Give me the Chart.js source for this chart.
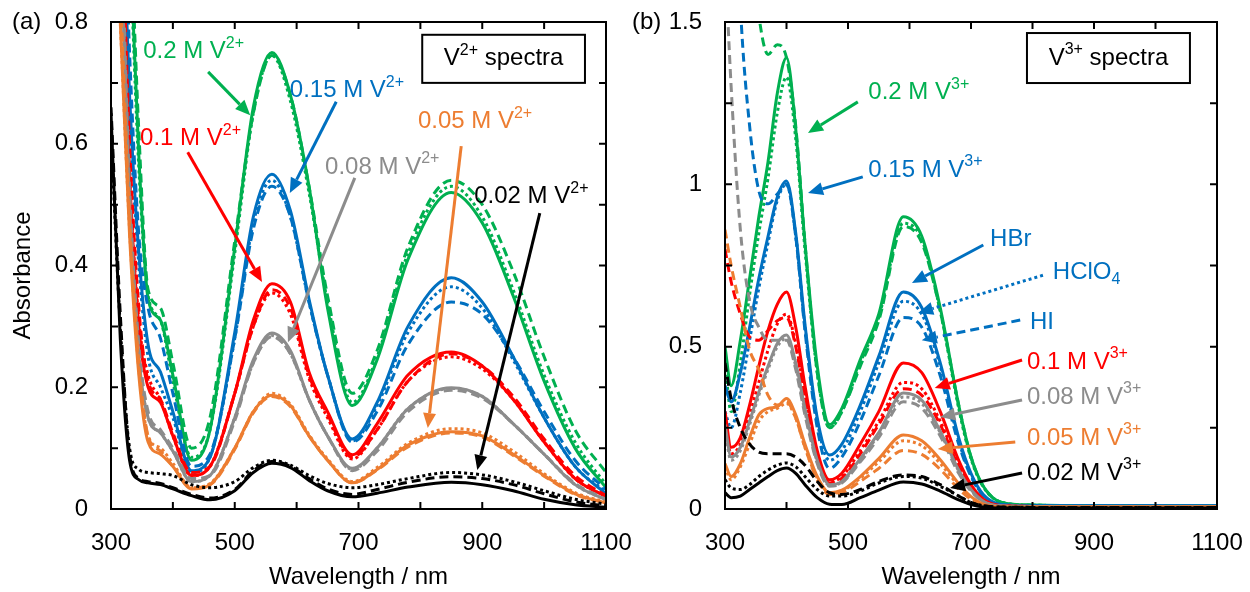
<!DOCTYPE html>
<html>
<head>
<meta charset="utf-8">
<script src="https://cdn.jsdelivr.net/npm/chart.js@4.4.0/dist/chart.umd.min.js"></script>
<style>
html, body { margin: 0; padding: 0; background: #fff; overflow: hidden; width: 1250px; height: 592px; }
#wrapA { position: absolute; left: 0; top: 0; width: 660px; height: 592px; }
#wrapB { position: absolute; left: 620px; top: 0; width: 644px; height: 592px; }
</style>
</head>
<body>
<div id="wrapA"><canvas id="chartA"></canvas></div>
<div id="wrapB"><canvas id="chartB"></canvas></div>
<script>
const GREEN = '#00B050', BLUE = '#0070C0', RED = '#FF0000', GRAY = '#8C8C8C', ORANGE = '#ED7D31', BLACK = '#000000';
const FONT = '"Liberation Sans", Arial, sans-serif';

// tick labels
const xTickLabels = [300, 500, 700, 900, 1100];
const yTickLabelsA = [0, 0.2, 0.4, 0.6, 0.8];
const yTickLabelsB = [0, 0.5, 1, 1.5];

// (a) V2+ spectra, wavelength grid
const wlA = [300, 315, 330, 345, 360, 380, 400, 430, 460, 500, 530, 560, 590, 620, 650, 690, 730, 780, 850, 900, 950, 1000, 1050, 1100];
const aGreenHBr   = [1.6, 1.25, 0.95, 0.58, 0.345, 0.31, 0.22, 0.08, 0.13, 0.43, 0.66, 0.75, 0.68, 0.53, 0.33, 0.17, 0.245, 0.41, 0.52, 0.47, 0.35, 0.21, 0.1, 0.035];
const aGreenHClO4 = [1.6, 1.25, 0.93, 0.56, 0.35, 0.31, 0.21, 0.085, 0.13, 0.42, 0.65, 0.745, 0.67, 0.52, 0.34, 0.175, 0.25, 0.42, 0.53, 0.48, 0.36, 0.22, 0.11, 0.04];
const aGreenHI    = [1.7, 1.35, 1.0, 0.62, 0.36, 0.33, 0.24, 0.1, 0.15, 0.44, 0.65, 0.745, 0.68, 0.53, 0.35, 0.19, 0.26, 0.43, 0.54, 0.5, 0.39, 0.25, 0.13, 0.06];
const aBlueHBr    = [1.4, 1.1, 0.68, 0.42, 0.27, 0.225, 0.16, 0.063, 0.085, 0.29, 0.48, 0.55, 0.49, 0.345, 0.22, 0.115, 0.175, 0.3, 0.38, 0.34, 0.25, 0.15, 0.07, 0.025];
const aBlueHClO4  = [1.4, 1.1, 0.66, 0.4, 0.25, 0.2, 0.15, 0.06, 0.085, 0.28, 0.47, 0.54, 0.48, 0.34, 0.22, 0.112, 0.17, 0.29, 0.365, 0.33, 0.245, 0.15, 0.07, 0.028];
const aBlueHI     = [1.5, 1.2, 0.75, 0.45, 0.33, 0.28, 0.19, 0.07, 0.09, 0.28, 0.46, 0.53, 0.48, 0.34, 0.22, 0.11, 0.16, 0.27, 0.34, 0.32, 0.25, 0.16, 0.08, 0.032];
const aRedHBr     = [1.3, 1.0, 0.55, 0.3, 0.2, 0.175, 0.12, 0.055, 0.07, 0.19, 0.31, 0.37, 0.34, 0.225, 0.16, 0.089, 0.14, 0.22, 0.258, 0.235, 0.18, 0.11, 0.05, 0.02];
const aRedHClO4   = [1.3, 1.0, 0.55, 0.31, 0.22, 0.18, 0.12, 0.055, 0.07, 0.19, 0.3, 0.355, 0.32, 0.215, 0.15, 0.082, 0.13, 0.21, 0.25, 0.23, 0.18, 0.11, 0.05, 0.02];
const aRedHI      = [1.35, 1.05, 0.6, 0.33, 0.21, 0.18, 0.125, 0.06, 0.07, 0.19, 0.3, 0.36, 0.33, 0.22, 0.155, 0.085, 0.13, 0.21, 0.255, 0.235, 0.185, 0.115, 0.055, 0.022];
const aGrayHBr    = [1.2, 0.95, 0.5, 0.25, 0.15, 0.125, 0.095, 0.045, 0.055, 0.15, 0.245, 0.289, 0.26, 0.18, 0.12, 0.067, 0.1, 0.165, 0.199, 0.185, 0.14, 0.09, 0.04, 0.015];
const aGrayHClO4  = [1.2, 0.95, 0.5, 0.25, 0.15, 0.125, 0.095, 0.045, 0.055, 0.15, 0.24, 0.285, 0.255, 0.18, 0.12, 0.065, 0.1, 0.165, 0.198, 0.185, 0.14, 0.09, 0.04, 0.015];
const aGrayHI     = [1.25, 1.0, 0.53, 0.27, 0.16, 0.13, 0.1, 0.05, 0.055, 0.145, 0.24, 0.283, 0.255, 0.18, 0.12, 0.063, 0.095, 0.16, 0.195, 0.182, 0.14, 0.09, 0.042, 0.016];
const aOrangeHBr   = [1.1, 0.8, 0.45, 0.22, 0.11, 0.09, 0.07, 0.033, 0.04, 0.1, 0.16, 0.187, 0.17, 0.12, 0.08, 0.043, 0.065, 0.105, 0.127, 0.12, 0.09, 0.055, 0.025, 0.01];
const aOrangeHClO4 = [1.1, 0.8, 0.46, 0.23, 0.12, 0.1, 0.075, 0.035, 0.042, 0.1, 0.16, 0.19, 0.172, 0.122, 0.082, 0.045, 0.068, 0.108, 0.132, 0.125, 0.095, 0.058, 0.027, 0.011];
const aOrangeHI    = [1.15, 0.85, 0.48, 0.24, 0.12, 0.095, 0.07, 0.035, 0.04, 0.098, 0.158, 0.185, 0.168, 0.12, 0.08, 0.043, 0.064, 0.102, 0.125, 0.118, 0.088, 0.054, 0.024, 0.01];
const aBlackHBr   = [0.65, 0.28, 0.08, 0.048, 0.043, 0.04, 0.033, 0.022, 0.015, 0.03, 0.06, 0.075, 0.068, 0.047, 0.03, 0.02, 0.026, 0.036, 0.044, 0.04, 0.03, 0.016, 0.007, 0.003];
const aBlackHClO4 = [0.62, 0.3, 0.1, 0.065, 0.06, 0.058, 0.055, 0.04, 0.035, 0.045, 0.068, 0.08, 0.072, 0.055, 0.042, 0.035, 0.04, 0.05, 0.06, 0.056, 0.045, 0.03, 0.016, 0.008];
const aBlackHI    = [0.66, 0.32, 0.09, 0.05, 0.045, 0.042, 0.035, 0.024, 0.018, 0.032, 0.063, 0.078, 0.07, 0.05, 0.033, 0.024, 0.032, 0.044, 0.053, 0.05, 0.04, 0.025, 0.012, 0.005];

// (b) V3+ spectra
const wlB = [300, 310, 325, 340, 355, 370, 385, 400, 415, 430, 450, 470, 490, 520, 550, 590, 620, 650, 680, 700, 720, 750, 800, 900, 1000, 1100];
const bGreenHBr   = [0.5, 0.38, 0.52, 0.71, 0.9, 1.07, 1.28, 1.39, 1.17, 0.82, 0.44, 0.26, 0.31, 0.46, 0.6, 0.9, 0.84, 0.62, 0.32, 0.16, 0.07, 0.02, 0.012, 0.01, 0.01, 0.01];
const bGreenHClO4 = [0.45, 0.3, 0.45, 0.66, 0.85, 1.02, 1.22, 1.33, 1.14, 0.8, 0.42, 0.25, 0.3, 0.45, 0.59, 0.88, 0.83, 0.61, 0.31, 0.155, 0.068, 0.02, 0.012, 0.01, 0.01, 0.01];
const bGreenHI    = [3.0, 2.6, 2.1, 1.8, 1.52, 1.4, 1.43, 1.39, 1.18, 0.82, 0.42, 0.25, 0.3, 0.44, 0.58, 0.87, 0.82, 0.61, 0.32, 0.16, 0.07, 0.02, 0.012, 0.01, 0.01, 0.01];
const bBlueHBr    = [0.38, 0.33, 0.42, 0.56, 0.71, 0.84, 0.96, 1.01, 0.85, 0.57, 0.28, 0.166, 0.2, 0.32, 0.47, 0.668, 0.62, 0.45, 0.22, 0.11, 0.045, 0.014, 0.01, 0.01, 0.01, 0.01];
const bBlueHClO4  = [0.3, 0.25, 0.36, 0.52, 0.68, 0.82, 0.95, 1.0, 0.84, 0.56, 0.27, 0.15, 0.18, 0.3, 0.45, 0.64, 0.6, 0.44, 0.21, 0.105, 0.042, 0.013, 0.01, 0.01, 0.01, 0.01];
const bBlueHI     = [3.0, 2.3, 1.55, 1.18, 0.98, 0.94, 0.97, 1.0, 0.84, 0.55, 0.25, 0.125, 0.16, 0.27, 0.41, 0.59, 0.56, 0.41, 0.2, 0.1, 0.04, 0.013, 0.01, 0.01, 0.01, 0.01];
const bRedHBr     = [0.3, 0.19, 0.22, 0.32, 0.44, 0.55, 0.63, 0.668, 0.56, 0.38, 0.18, 0.09, 0.11, 0.2, 0.3, 0.45, 0.42, 0.3, 0.15, 0.075, 0.03, 0.01, 0.008, 0.008, 0.008, 0.008];
const bRedHClO4   = [0.26, 0.17, 0.2, 0.29, 0.39, 0.49, 0.57, 0.6, 0.51, 0.35, 0.17, 0.085, 0.1, 0.18, 0.27, 0.39, 0.37, 0.27, 0.135, 0.068, 0.027, 0.01, 0.008, 0.008, 0.008, 0.008];
const bRedHI      = [0.8, 0.7, 0.6, 0.53, 0.52, 0.55, 0.58, 0.59, 0.5, 0.34, 0.16, 0.08, 0.095, 0.17, 0.26, 0.37, 0.35, 0.26, 0.13, 0.065, 0.026, 0.01, 0.008, 0.008, 0.008, 0.008];
const bGrayHBr    = [0.26, 0.16, 0.19, 0.27, 0.36, 0.44, 0.51, 0.536, 0.45, 0.31, 0.15, 0.075, 0.085, 0.155, 0.235, 0.357, 0.335, 0.24, 0.12, 0.06, 0.024, 0.009, 0.008, 0.008, 0.008, 0.008];
const bGrayHClO4  = [0.24, 0.15, 0.18, 0.26, 0.35, 0.43, 0.5, 0.525, 0.44, 0.3, 0.145, 0.073, 0.083, 0.15, 0.23, 0.345, 0.325, 0.235, 0.117, 0.058, 0.023, 0.009, 0.008, 0.008, 0.008, 0.008];
const bGrayHI     = [1.7, 1.3, 0.86, 0.64, 0.56, 0.52, 0.52, 0.52, 0.43, 0.29, 0.14, 0.07, 0.08, 0.145, 0.22, 0.33, 0.31, 0.225, 0.11, 0.055, 0.022, 0.009, 0.008, 0.008, 0.008, 0.008];
const bOrangeHBr   = [0.14, 0.1, 0.14, 0.22, 0.29, 0.31, 0.315, 0.34, 0.29, 0.2, 0.1, 0.05, 0.058, 0.1, 0.155, 0.228, 0.21, 0.152, 0.078, 0.038, 0.015, 0.007, 0.006, 0.006, 0.006, 0.006];
const bOrangeHClO4 = [0.13, 0.09, 0.13, 0.2, 0.27, 0.3, 0.31, 0.325, 0.28, 0.19, 0.095, 0.048, 0.055, 0.095, 0.145, 0.21, 0.195, 0.14, 0.072, 0.035, 0.014, 0.007, 0.006, 0.006, 0.006, 0.006];
const bOrangeHI    = [0.86, 0.75, 0.62, 0.49, 0.43, 0.35, 0.32, 0.33, 0.28, 0.19, 0.09, 0.045, 0.05, 0.085, 0.125, 0.18, 0.168, 0.122, 0.062, 0.03, 0.012, 0.006, 0.006, 0.006, 0.006, 0.006];
const bBlackHBr   = [0.05, 0.035, 0.04, 0.06, 0.08, 0.1, 0.118, 0.126, 0.11, 0.075, 0.035, 0.015, 0.014, 0.035, 0.058, 0.083, 0.077, 0.055, 0.028, 0.014, 0.006, 0.003, 0.003, 0.003, 0.003, 0.003];
const bBlackHClO4 = [0.09, 0.065, 0.06, 0.075, 0.1, 0.12, 0.135, 0.142, 0.13, 0.1, 0.06, 0.04, 0.04, 0.055, 0.08, 0.1, 0.095, 0.07, 0.04, 0.02, 0.01, 0.006, 0.005, 0.005, 0.005, 0.005];
const bBlackHI    = [0.45, 0.34, 0.25, 0.2, 0.175, 0.17, 0.17, 0.17, 0.16, 0.135, 0.085, 0.05, 0.045, 0.06, 0.085, 0.105, 0.1, 0.075, 0.04, 0.02, 0.01, 0.006, 0.005, 0.005, 0.005, 0.005];

// line style per acid
const DASH = { HBr: [], HClO4: [3, 3], HI: [9, 5] };

function line(wl, vals, color, acid) {
	return {
		data: wl.map((w, i) => ({ x: w, y: vals[i] })),
		borderColor: color,
		borderWidth: 3,
		borderDash: DASH[acid],
		pointRadius: 0,
		fill: false,
		cubicInterpolationMode: 'monotone'
	};
}

const datasetsA = [
	line(wlA, aBlackHI, BLACK, 'HI'), line(wlA, aBlackHClO4, BLACK, 'HClO4'), line(wlA, aBlackHBr, BLACK, 'HBr'),
	line(wlA, aOrangeHI, ORANGE, 'HI'), line(wlA, aOrangeHClO4, ORANGE, 'HClO4'), line(wlA, aOrangeHBr, ORANGE, 'HBr'),
	line(wlA, aGrayHI, GRAY, 'HI'), line(wlA, aGrayHClO4, GRAY, 'HClO4'), line(wlA, aGrayHBr, GRAY, 'HBr'),
	line(wlA, aRedHI, RED, 'HI'), line(wlA, aRedHClO4, RED, 'HClO4'), line(wlA, aRedHBr, RED, 'HBr'),
	line(wlA, aBlueHI, BLUE, 'HI'), line(wlA, aBlueHClO4, BLUE, 'HClO4'), line(wlA, aBlueHBr, BLUE, 'HBr'),
	line(wlA, aGreenHI, GREEN, 'HI'), line(wlA, aGreenHClO4, GREEN, 'HClO4'), line(wlA, aGreenHBr, GREEN, 'HBr')
];
const datasetsB = [
	line(wlB, bBlackHI, BLACK, 'HI'), line(wlB, bBlackHClO4, BLACK, 'HClO4'), line(wlB, bBlackHBr, BLACK, 'HBr'),
	line(wlB, bOrangeHI, ORANGE, 'HI'), line(wlB, bOrangeHClO4, ORANGE, 'HClO4'), line(wlB, bOrangeHBr, ORANGE, 'HBr'),
	line(wlB, bGrayHI, GRAY, 'HI'), line(wlB, bGrayHClO4, GRAY, 'HClO4'), line(wlB, bGrayHBr, GRAY, 'HBr'),
	line(wlB, bRedHI, RED, 'HI'), line(wlB, bRedHClO4, RED, 'HClO4'), line(wlB, bRedHBr, RED, 'HBr'),
	line(wlB, bBlueHI, BLUE, 'HI'), line(wlB, bBlueHClO4, BLUE, 'HClO4'), line(wlB, bBlueHBr, BLUE, 'HBr'),
	line(wlB, bGreenHI, GREEN, 'HI'), line(wlB, bGreenHClO4, GREEN, 'HClO4'), line(wlB, bGreenHBr, GREEN, 'HBr')
];

// annotations, placed in data units (wavelength, absorbance)
const notesA = {
	tag: '(a)',
	box: { from: [803, 0.779], to: [1066, 0.700], sup: '2+' },
	labels: [
		{ text: '0.2 M V', sup: '2+', color: GREEN, at: [352, 0.751] },
		{ text: '0.15 M V', sup: '2+', color: BLUE, at: [589, 0.688] },
		{ text: '0.1 M V', sup: '2+', color: RED, at: [347, 0.609] },
		{ text: '0.08 M V', sup: '2+', color: GRAY, at: [646, 0.562] },
		{ text: '0.05 M V', sup: '2+', color: ORANGE, at: [796, 0.636] },
		{ text: '0.02 M V', sup: '2+', color: BLACK, at: [887, 0.513] }
	],
	arrows: [
		{ color: GREEN, from: [457, 0.718], to: [525, 0.647] },
		{ color: BLUE, from: [664, 0.669], to: [589, 0.519] },
		{ color: RED, from: [424, 0.586], to: [544, 0.373] },
		{ color: GRAY, from: [694, 0.544], to: [586, 0.274] },
		{ color: ORANGE, from: [866, 0.596], to: [812, 0.133] },
		{ color: BLACK, from: [993, 0.486], to: [892, 0.064] }
	]
};
const notesB = {
	tag: '(b)',
	box: { from: [791, 1.466], to: [1056, 1.312], sup: '3+' },
	labels: [
		{ text: '0.2 M V', sup: '3+', color: GREEN, at: [533, 1.284] },
		{ text: '0.15 M V', sup: '3+', color: BLUE, at: [533, 1.044] },
		{ text: 'HBr', color: BLUE, at: [731, 0.829] },
		{ text: 'HClO', sub: '4', color: BLUE, at: [833, 0.73] },
		{ text: 'HI', color: BLUE, at: [796, 0.576] },
		{ text: '0.1 M V', sup: '3+', color: RED, at: [791, 0.453] },
		{ text: '0.08 M V', sup: '3+', color: GRAY, at: [791, 0.345] },
		{ text: '0.05 M V', sup: '3+', color: ORANGE, at: [791, 0.219] },
		{ text: '0.02 M V', sup: '3+', color: BLACK, at: [791, 0.111] }
	],
	arrows: [
		{ color: GREEN, from: [516, 1.254], to: [435, 1.158] },
		{ color: BLUE, from: [524, 1.023], to: [435, 0.973] },
		{ color: BLUE, from: [720, 0.813], to: [604, 0.696] },
		{ color: BLUE, from: [817, 0.72], to: [614, 0.604], dash: [3, 3] },
		{ color: BLUE, from: [780, 0.582], to: [620, 0.52], dash: [9, 5] },
		{ color: RED, from: [783, 0.459], to: [641, 0.373] },
		{ color: GRAY, from: [783, 0.336], to: [650, 0.283] },
		{ color: ORANGE, from: [772, 0.206], to: [646, 0.185] },
		{ color: BLACK, from: [783, 0.111], to: [666, 0.065] }
	]
};

function richText(ctx, x, y, text, color, sup, sub) {
	ctx.fillStyle = color;
	ctx.textAlign = 'left';
	ctx.textBaseline = 'middle';
	ctx.font = '24px ' + FONT;
	ctx.fillText(text, x, y);
	let w = ctx.measureText(text).width;
	ctx.font = '16px ' + FONT;
	if (sup) {
		ctx.fillText(sup, x + w, y - 8);
		w += ctx.measureText(sup).width;
	}
	if (sub) {
		ctx.fillText(sub, x + w, y + 8);
		w += ctx.measureText(sub).width;
	}
	return w;
}

function arrow(ctx, x1, y1, x2, y2, color, dash) {
	const ang = Math.atan2(y2 - y1, x2 - x1);
	const head = 15, half = 6.5;
	ctx.save();
	ctx.strokeStyle = color;
	ctx.fillStyle = color;
	ctx.lineWidth = 3;
	ctx.setLineDash(dash || []);
	ctx.beginPath();
	ctx.moveTo(x1, y1);
	ctx.lineTo(x2 - head * Math.cos(ang), y2 - head * Math.sin(ang));
	ctx.stroke();
	ctx.setLineDash([]);
	ctx.beginPath();
	ctx.moveTo(x2, y2);
	ctx.lineTo(x2 - head * Math.cos(ang) + half * Math.sin(ang), y2 - head * Math.sin(ang) - half * Math.cos(ang));
	ctx.lineTo(x2 - head * Math.cos(ang) - half * Math.sin(ang), y2 - head * Math.sin(ang) + half * Math.cos(ang));
	ctx.closePath();
	ctx.fill();
	ctx.restore();
}

// frame with inward ticks on all four sides, then the notes
function framePlugin(notes) {
	return {
		id: 'frame',
		afterDatasetsDraw(chart) {
			const { ctx, chartArea: a, scales: { x, y } } = chart;
			const px = v => x.getPixelForValue(v), py = v => y.getPixelForValue(v);
			ctx.save();
			ctx.strokeStyle = '#000';
			ctx.lineWidth = 2;
			ctx.strokeRect(a.left, a.top, a.right - a.left, a.bottom - a.top);
			const len = 7;
			ctx.beginPath();
			x.ticks.forEach(t => {
				const p = px(t.value);
				ctx.moveTo(p, a.bottom); ctx.lineTo(p, a.bottom - len);
				ctx.moveTo(p, a.top); ctx.lineTo(p, a.top + len);
			});
			y.ticks.forEach(t => {
				const p = py(t.value);
				ctx.moveTo(a.left, p); ctx.lineTo(a.left + len, p);
				ctx.moveTo(a.right, p); ctx.lineTo(a.right - len, p);
			});
			ctx.stroke();

			// panel tag
			ctx.fillStyle = '#000';
			ctx.font = '24px ' + FONT;
			ctx.textAlign = 'left';
			ctx.textBaseline = 'middle';
			ctx.fillText(notes.tag, 12, a.top);

			// box legend
			const b = notes.box;
			const bx = px(b.from[0]), by = py(b.from[1]), bw = px(b.to[0]) - bx, bh = py(b.to[1]) - by;
			ctx.fillStyle = '#fff';
			ctx.fillRect(bx, by, bw, bh);
			ctx.strokeRect(bx, by, bw, bh);
			ctx.font = '24px ' + FONT;
			const w1 = ctx.measureText('V').width;
			ctx.font = '16px ' + FONT;
			const w2 = ctx.measureText(b.sup).width;
			ctx.font = '24px ' + FONT;
			const w3 = ctx.measureText(' spectra').width;
			let tx = bx + (bw - (w1 + w2 + w3)) / 2;
			const ty = by + bh / 2;
			tx += richText(ctx, tx, ty, 'V', '#000', b.sup);
			ctx.font = '24px ' + FONT;
			ctx.fillText(' spectra', tx, ty);

			notes.arrows.forEach(r => arrow(ctx, px(r.from[0]), py(r.from[1]), px(r.to[0]), py(r.to[1]), r.color, r.dash));
			notes.labels.forEach(l => richText(ctx, px(l.at[0]), py(l.at[1]), l.text, l.color, l.sup, l.sub));
			ctx.restore();
		}
	};
}

Chart.defaults.font.family = FONT;
Chart.defaults.color = '#000';

function makeOptions(yMax, yStep, yLabels, yWidth, padRight, yTitle) {
	return {
		animation: false,
		responsive: true,
		maintainAspectRatio: false,
		layout: { padding: { top: 22, right: padRight, left: 0, bottom: 0 } },
		plugins: { legend: { display: false }, tooltip: { enabled: false } },
		scales: {
			x: {
				type: 'linear',
				min: 300,
				max: 1100,
				afterFit: s => { s.height = 83; s.paddingLeft = 0; s.paddingRight = 0; },
				grid: { display: false, drawTicks: false },
				border: { display: false },
				ticks: {
					stepSize: 100,
					autoSkip: false,
					maxRotation: 0,
					padding: 20,
					font: { size: 24 },
					callback: v => xTickLabels.includes(v) ? String(v) : ''
				},
				title: { display: true, text: 'Wavelength / nm', font: { size: 24 }, padding: { top: 0, bottom: 0 } }
			},
			y: {
				type: 'linear',
				min: 0,
				max: yMax,
				afterFit: s => { s.width = yWidth; s.paddingTop = 0; s.paddingBottom = 0; },
				grid: { display: false, drawTicks: false },
				border: { display: false },
				ticks: {
					stepSize: yStep,
					autoSkip: false,
					padding: 23,
					font: { size: 24 },
					callback: v => {
						const hit = yLabels.find(l => Math.abs(l - v) < 1e-6);
						return hit === undefined ? '' : String(hit);
					}
				},
				title: { display: !!yTitle, text: yTitle || '', font: { size: 24 }, padding: { top: 9, bottom: 0 } }
			}
		}
	};
}

new Chart(document.getElementById('chartA'), {
	type: 'line',
	data: { datasets: datasetsA },
	options: makeOptions(0.8, 0.1, yTickLabelsA, 111, 54, 'Absorbance\u00a0\u00a0\u00a0'),
	plugins: [framePlugin(notesA)]
});

new Chart(document.getElementById('chartB'), {
	type: 'line',
	data: { datasets: datasetsB },
	options: makeOptions(1.5, 0.25, yTickLabelsB, 105, 47, ''),
	plugins: [framePlugin(notesB)]
});
</script>
</body>
</html>
